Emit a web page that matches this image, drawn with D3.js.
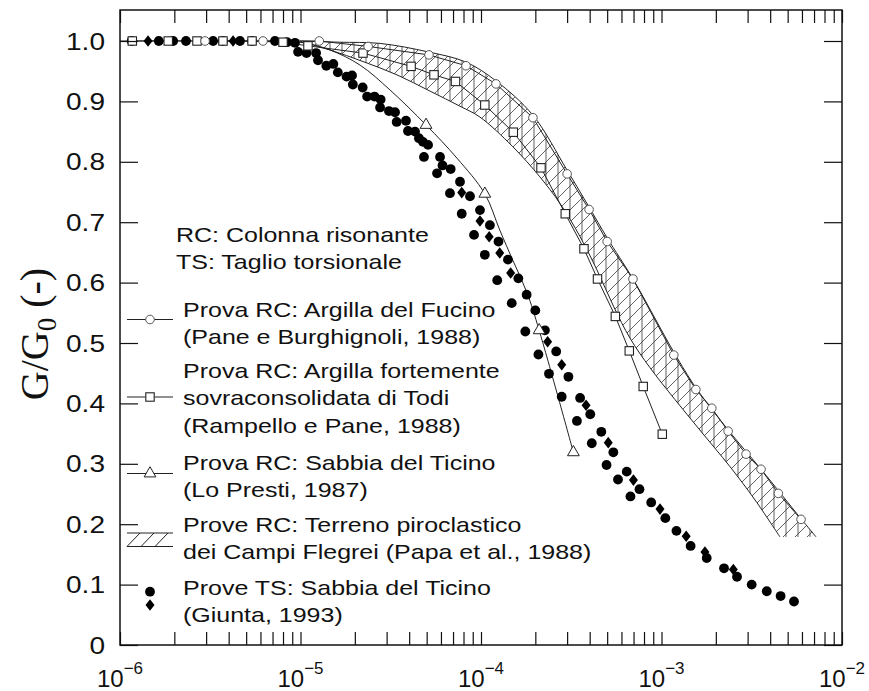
<!DOCTYPE html>
<html>
<head>
<meta charset="utf-8">
<script src="https://cdn.jsdelivr.net/npm/d3@7"></script>
<style>
  body { margin: 0; background: #fff; }
  .axis path { display: none; }
  .axis line { stroke: #111; stroke-width: 1.2; }
  text { fill: #111; }
</style>
</head>
<body>
<svg id="chart" width="869" height="691"></svg>
<script>
// ---- data: [shear strain (-), G/G0 (-)] ----
var fucino = [[2.96e-6,1.0],[6.2e-6,1.0],[1.27e-5,1.0],[2.37e-5,0.991],[5.15e-5,0.977],[8.26e-5,0.959],
  [1.21e-4,0.929],[1.94e-4,0.873],[3.0e-4,0.780],[3.97e-4,0.721],[5.0e-4,0.668],[6.95e-4,0.606],
  [1.17e-3,0.480],[1.55e-3,0.423],[1.9e-3,0.392],[2.34e-3,0.354],[2.94e-3,0.316],[3.56e-3,0.291],
  [4.44e-3,0.251],[5.93e-3,0.208]];

var todi = [[1.17e-6,1.0],[1.85e-6,1.0],[2.67e-6,1.0],[3.72e-6,1.0],[5.39e-6,1.0],[8.0e-6,0.998],
  [1.10e-5,0.992],[2.22e-5,0.980],[4.1e-5,0.958],[5.49e-5,0.944],[7.22e-5,0.933],[1.05e-4,0.894],
  [1.51e-4,0.849],[2.15e-4,0.790],[2.93e-4,0.714],[3.72e-4,0.656],[4.42e-4,0.606],[5.55e-4,0.544],
  [6.63e-4,0.487],[7.92e-4,0.428],[1.01e-3,0.349]];

var ticinoRC = [[4.96e-5,0.861],[1.05e-4,0.747],[2.10e-4,0.521],[3.25e-4,0.319]];
var ticinoRCCurve = [[1e-6,1.0],[5e-6,1.0],[9.94e-6,0.998],[1.46e-5,0.985],[2.14e-5,0.960],[3.13e-5,0.919],
  [4.96e-5,0.861],[7.36e-5,0.806],[1.05e-4,0.747],[1.27e-4,0.687],[1.50e-4,0.637],[1.80e-4,0.583],
  [2.10e-4,0.521],[3.25e-4,0.319]];

// Campi Flegrei band (upper / lower bounds)
var flegreiUpper = [[9.94e-6,1.0],[1.65e-5,0.998],[2.76e-5,0.996],[5.09e-5,0.982],[8.26e-5,0.965],
  [1.21e-4,0.934],[1.94e-4,0.877],[3.0e-4,0.786],[3.97e-4,0.725],[5.0e-4,0.674],[6.95e-4,0.606],
  [1.17e-3,0.485],[1.55e-3,0.426],[2.34e-3,0.356],[3.56e-3,0.291],[5.93e-3,0.209],[7.18e-3,0.179]];
var flegreiLower = [[9.94e-6,0.999],[1.46e-5,0.985],[2.22e-5,0.966],[3.42e-5,0.944],[5.22e-5,0.917],
  [7.65e-5,0.892],[9.87e-5,0.874],[1.50e-4,0.825],[2.12e-4,0.775],[2.74e-4,0.731],[3.54e-4,0.676],
  [4.39e-4,0.621],[5.42e-4,0.561],[6.69e-4,0.508],[8.64e-4,0.459],[1.19e-3,0.406],[1.63e-3,0.356],
  [2.40e-3,0.295],[3.30e-3,0.240],[4.53e-3,0.179]];

// TS tests (Giunta, 1993): dots and diamonds
var tsDots = [[1.16e-6,1.0],[1.64e-6,1.0],[1.97e-6,1.0],[2.32e-6,1.0],[3.28e-6,1.0],[3.72e-6,1.0],
  [4.62e-6,1.0],[5.39e-6,1.0],[7.22e-6,1.0],[8.42e-6,0.998],[9.32e-6,0.997],[9.69e-6,0.982],
  [1.08e-5,0.980],[1.22e-5,0.980],[1.25e-5,0.968],[1.39e-5,0.959],[1.52e-5,0.962],[1.61e-5,0.948],
  [1.80e-5,0.941],[1.93e-5,0.943],[1.95e-5,0.928],[2.21e-5,0.923],[2.34e-5,0.908],[2.57e-5,0.908],
  [2.78e-5,0.903],[2.76e-5,0.890],[3.09e-5,0.884],[3.34e-5,0.882],[3.41e-5,0.866],[3.84e-5,0.868],
  [3.94e-5,0.851],[4.31e-5,0.850],[4.53e-5,0.839],[4.77e-5,0.833],[5.09e-5,0.828],[4.83e-5,0.808],
  [5.93e-5,0.808],[6.12e-5,0.794],[6.79e-5,0.788],[5.71e-5,0.781],[7.65e-5,0.767],[8.69e-5,0.743],
  [6.73e-5,0.748],[9.87e-5,0.720],[7.82e-5,0.714],[9.15e-5,0.679],[1.12e-4,0.695],[1.25e-4,0.668],
  [1.05e-4,0.646],[1.41e-4,0.638],[1.61e-4,0.607],[1.23e-4,0.604],[1.79e-4,0.580],[1.48e-4,0.566],
  [2.0e-4,0.554],[1.76e-4,0.519],[2.26e-4,0.521],[2.08e-4,0.481],[2.61e-4,0.486],[2.38e-4,0.449],
  [3.05e-4,0.444],[2.80e-4,0.411],[3.54e-4,0.409],[4.03e-4,0.382],[3.40e-4,0.371],[4.64e-4,0.353],
  [4.11e-4,0.334],[5.41e-4,0.319],[4.96e-4,0.298],[6.42e-4,0.287],[5.74e-4,0.274],[7.55e-4,0.258],
  [6.73e-4,0.246],[8.77e-4,0.236],[1.05e-3,0.210],[1.21e-3,0.189],[1.45e-3,0.164],[1.78e-3,0.144],
  [2.22e-3,0.127],[2.62e-3,0.113],[3.16e-3,0.100],[3.83e-3,0.089],[4.57e-3,0.081],[5.42e-3,0.072]];
var tsDiamonds = [[1.43e-6,1.0],[4.23e-6,1.0],[7.82e-5,0.749],[9.87e-5,0.702],[1.11e-4,0.676],
  [1.27e-4,0.649],[1.46e-4,0.616],[2.34e-4,0.502],[2.80e-4,0.464],[3.82e-4,0.397],[5.07e-4,0.335],
  [6.99e-4,0.273],[9.81e-4,0.225],[1.37e-3,0.180],[1.74e-3,0.154],[2.50e-3,0.125]];

var yTicks = [0, 0.1, 0.2, 0.3, 0.4, 0.5, 0.6, 0.7, 0.8, 0.9, 1.0];
var yTickLabels = ["0", "0.1", "0.2", "0.3", "0.4", "0.5", "0.6", "0.7", "0.8", "0.9", "1.0"];
var xExponents = [-6, -5, -4, -3, -2];

var legendBlocks = [
  { sym: null, lines: ["RC: Colonna risonante", "TS: Taglio torsionale"] },
  { sym: "circle", lines: ["Prova RC: Argilla del Fucino", "(Pane e Burghignoli, 1988)"] },
  { sym: "square", lines: ["Prova RC: Argilla fortemente", "sovraconsolidata di Todi", "(Rampello e Pane, 1988)"] },
  { sym: "triangle", lines: ["Prova RC: Sabbia del Ticino", "(Lo Presti, 1987)"] },
  { sym: "hatch", lines: ["Prove RC: Terreno piroclastico", "dei Campi Flegrei (Papa et al., 1988)"] },
  { sym: "ts", lines: ["Prove TS: Sabbia del Ticino", "(Giunta, 1993)"] }
];

// ---- layout ----
var translate = function(x, y) { return "translate(" + x + "," + y + ")"; };
var svg = d3.select("#chart");
var x = d3.scaleLog().domain([1e-6, 1e-2]).range([120, 842]);
var y = d3.scaleLinear().domain([0, 1]).range([645, 41]);
var yTop = 1.0513;
var ink = "#222";

svg.append("rect").attr("width", 869).attr("height", 691).attr("fill", "#fff");

// hatch pattern: "/" plus vertical strokes
var defs = svg.append("defs");
var pat = defs.append("pattern").attr("id", "hatch")
  .attr("patternUnits", "userSpaceOnUse").attr("width", 12).attr("height", 12);
pat.append("path").attr("d", "M0,12 L12,0 M-2,2 L2,-2 M10,14 L14,10")
  .attr("stroke", "#444").attr("stroke-width", 0.85);
pat.append("path").attr("d", "M6,0 V12")
  .attr("stroke", "#444").attr("stroke-width", 0.85);

var line = d3.line().x(function(d) { return x(d[0]); }).y(function(d) { return y(d[1]); });
var smooth = d3.line().x(function(d) { return x(d[0]); }).y(function(d) { return y(d[1]); })
  .curve(d3.curveCatmullRom);

// band
svg.append("path").attr("d", smooth(flegreiUpper) + "L" + smooth(flegreiLower.slice().reverse()).slice(1) + "Z")
  .attr("fill", "url(#hatch)").attr("stroke", "none");
svg.append("path").attr("d", smooth(flegreiUpper)).attr("fill", "none").attr("stroke", ink).attr("stroke-width", 1);
svg.append("path").attr("d", smooth(flegreiLower)).attr("fill", "none").attr("stroke", ink).attr("stroke-width", 1);

// series lines
svg.append("path").attr("d", line(fucino)).attr("fill", "none").attr("stroke", ink).attr("stroke-width", 1);
svg.append("path").attr("d", line(todi)).attr("fill", "none").attr("stroke", ink).attr("stroke-width", 1);
svg.append("path").attr("d", smooth(ticinoRCCurve)).attr("fill", "none").attr("stroke", ink).attr("stroke-width", 1);

// marker helpers
var diamondPath = "M0,-5.8 L4.5,0 L0,5.8 L-4.5,0 Z";
var triPath = d3.symbol().type(d3.symbolTriangle).size(60)();

function dots(g, data) {
  g.selectAll(null).data(data).enter().append("circle")
    .attr("cx", function(d) { return x(d[0]); }).attr("cy", function(d) { return y(d[1]); })
    .attr("r", 4.9).attr("fill", "#000");
}
function diamonds(g, data) {
  g.selectAll(null).data(data).enter().append("path")
    .attr("transform", function(d) { return translate(x(d[0]), y(d[1])); })
    .attr("d", diamondPath).attr("fill", "#000");
}
function squares(g, data) {
  g.selectAll(null).data(data).enter().append("rect")
    .attr("x", function(d) { return x(d[0]) - 4.2; }).attr("y", function(d) { return y(d[1]) - 4.2; })
    .attr("width", 8.4).attr("height", 8.4).attr("fill", "#fff").attr("stroke", ink).attr("stroke-width", 1.1);
}
function circles(g, data) {
  g.selectAll(null).data(data).enter().append("circle")
    .attr("cx", function(d) { return x(d[0]); }).attr("cy", function(d) { return y(d[1]); })
    .attr("r", 4.3).attr("fill", "#fff").attr("stroke", "#555").attr("stroke-width", 1);
}
function triangles(g, data) {
  g.selectAll(null).data(data).enter().append("path")
    .attr("transform", function(d) { return translate(x(d[0]), y(d[1])); })
    .attr("d", triPath).attr("fill", "#fff").attr("stroke", ink).attr("stroke-width", 1);
}

var marks = svg.append("g");
dots(marks, tsDots);
diamonds(marks, tsDiamonds);
squares(marks, todi);
circles(marks, fucino);
triangles(marks, ticinoRC);

// ---- axes (ticks inward on all four sides) ----
var frameTop = y(yTop);
svg.append("g").attr("class", "axis").attr("transform", translate(0, 645))
  .call(d3.axisBottom(x).tickValues(x.ticks()).tickSize(-13).tickFormat(""));
svg.append("g").attr("class", "axis").attr("transform", translate(0, frameTop))
  .call(d3.axisTop(x).tickValues(x.ticks()).tickSize(-13).tickFormat(""));
svg.append("g").attr("class", "axis").attr("transform", translate(120, 0))
  .call(d3.axisLeft(y).tickValues(yTicks).tickSize(-18).tickFormat(""));
svg.append("g").attr("class", "axis").attr("transform", translate(842, 0))
  .call(d3.axisRight(y).tickValues(yTicks).tickSize(-18).tickFormat(""));

svg.append("rect").attr("x", 120).attr("y", frameTop).attr("width", 722).attr("height", 645 - frameTop)
  .attr("fill", "none").attr("stroke", "#111").attr("stroke-width", 1.5);

// y tick labels
svg.selectAll(".ylab").data(yTicks).enter().append("text")
  .attr("class", "ylab")
  .attr("transform", function(d) { return translate(105, y(d) + 8.5) + " scale(1.22,1)"; })
  .attr("text-anchor", "end")
  .style("font", "23px 'Liberation Sans', Arial, sans-serif")
  .text(function(d, i) { return yTickLabels[i]; });

// x tick labels 10^n
var xl = svg.selectAll(".xlab").data(xExponents).enter().append("text")
  .attr("class", "xlab")
  .attr("x", function(d) { return x(Math.pow(10, d)); })
  .attr("y", 687)
  .attr("text-anchor", "middle")
  .style("font", "24px 'Liberation Sans', Arial, sans-serif");
xl.append("tspan").text("10");
xl.append("tspan").attr("dy", -13).style("font-size", "17px")
  .text(function(d) { return "\u2212" + Math.abs(d); });

// y title
var yt = svg.append("text")
  .attr("transform", translate(48, 334) + " rotate(-90)")
  .attr("text-anchor", "middle")
  .style("font", "40px 'Liberation Serif', 'Times New Roman', serif");
yt.append("tspan").text("G/G");
yt.append("tspan").attr("dy", 8).style("font-size", "27px").text("0");
yt.append("tspan").attr("dy", -8).text(" (-)");

// ---- legend ----
var blockBase = [242, 317, 378, 470, 532, 595];
var lineGap = 27.3;
var leg = svg.append("g");
legendBlocks.forEach(function(b, i) {
  var tx = b.sym ? 183 : 176;
  b.lines.forEach(function(t, j) {
    leg.append("text")
      .attr("transform", translate(tx, blockBase[i] + j * lineGap) + " scale(1.19,1)")
      .style("font", "21px 'Liberation Sans', Arial, sans-serif")
      .text(t);
  });
  var base = blockBase[i];
  var g = leg.append("g");
  if (b.sym === "circle" || b.sym === "square" || b.sym === "triangle") {
    var sy = b.sym === "circle" ? base + 2.5 : b.sym === "square" ? base + 19 : base + 3.5;
    g.append("line").attr("x1", 127).attr("x2", 173).attr("y1", sy).attr("y2", sy)
      .attr("stroke", ink).attr("stroke-width", 1);
    var pt = [[x.invert(150), y.invert(sy)]];
    if (b.sym === "circle") circles(g, pt);
    if (b.sym === "square") squares(g, pt);
    if (b.sym === "triangle") triangles(g, pt);
  }
  if (b.sym === "hatch") {
    var y1 = base + 1, y2 = base + 14.5;
    g.append("line").attr("x1", 127).attr("x2", 173).attr("y1", y1).attr("y2", y1).attr("stroke", ink);
    g.append("line").attr("x1", 127).attr("x2", 173).attr("y1", y2).attr("y2", y2).attr("stroke", ink);
    [127, 141, 155].forEach(function(hx) {
      g.append("line").attr("x1", hx).attr("y1", y2).attr("x2", hx + 13).attr("y2", y1)
        .attr("stroke", ink).attr("stroke-width", 1);
    });
  }
  if (b.sym === "ts") {
    dots(g, [[x.invert(150), y.invert(base - 3.3)]]);
    diamonds(g, [[x.invert(150), y.invert(base + 10)]]);
  }
});
</script>
</body>
</html>
